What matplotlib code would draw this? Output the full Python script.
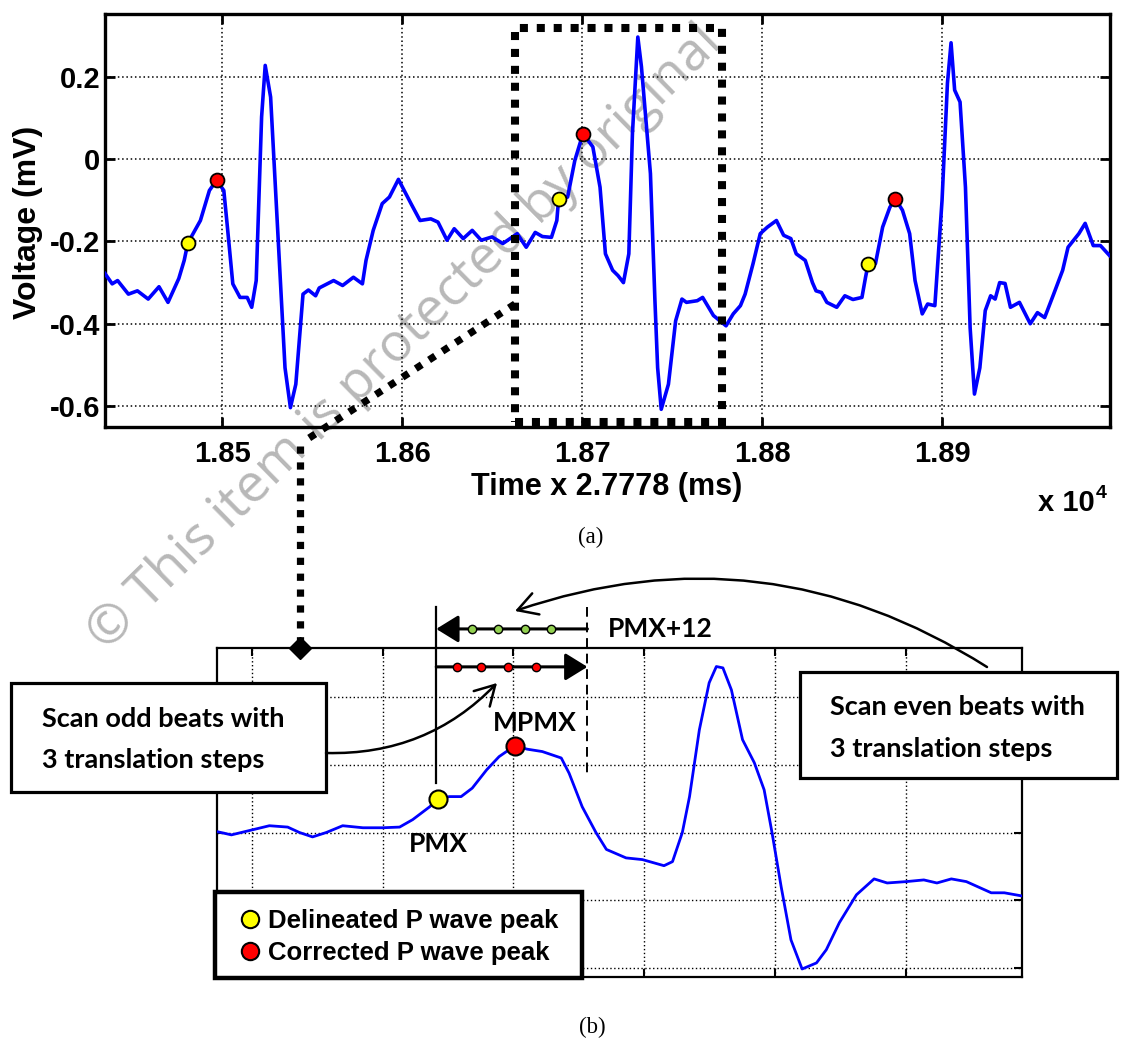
import matplotlib
matplotlib.use('Agg')
import matplotlib.pyplot as plt
from matplotlib.lines import Line2D
from matplotlib.patches import Rectangle, FancyArrowPatch
from matplotlib.ticker import FuncFormatter, FixedLocator

# ---- data ----
# (a) ECG trace, samples and mV
ecg_t = [18435, 18439, 18442, 18448, 18453, 18459, 18465, 18470, 18476, 18479,
         18481, 18488, 18493, 18497, 18501, 18503, 18506, 18510, 18514, 18516.5,
         18519, 18522, 18524, 18527, 18531, 18535, 18538, 18541, 18545, 18548,
         18552, 18554, 18562, 18567, 18573, 18578, 18580, 18584, 18589, 18593,
         18598, 18605, 18610, 18616, 18620, 18625, 18629, 18634, 18639, 18644,
         18650, 18656, 18664, 18669, 18674, 18678, 18683, 18686, 18687, 18692,
         18696, 18700.5, 18706, 18710, 18713, 18717, 18720, 18723, 18726, 18728,
         18731, 18733, 18738, 18740.5, 18742, 18744, 18748, 18752, 18755.5, 18758,
         18764, 18767, 18773, 18780, 18784, 18788, 18790.6, 18795, 18799, 18803,
         18808, 18812, 18816, 18819, 18824, 18828, 18830, 18833, 18836, 18841.5,
         18846, 18850.5, 18855.5, 18857.5, 18859, 18863, 18867, 18871, 18874, 18878,
         18882, 18885, 18889, 18892, 18896, 18900, 18903, 18905, 18907, 18910,
         18913, 18915.6, 18918, 18921, 18924, 18927, 18929.5, 18932, 18935, 18938,
         18943, 18949, 18953, 18957, 18962, 18967, 18970, 18976, 18979.5, 18984,
         18988, 18993]
ecg_v = [-0.278, -0.303, -0.295, -0.328, -0.320, -0.340, -0.310, -0.348, -0.290, -0.246,
         -0.204, -0.149, -0.076, -0.051, -0.076, -0.165, -0.303, -0.336, -0.336, -0.360,
         -0.295, 0.103, 0.228, 0.151, -0.180, -0.507, -0.604, -0.547, -0.328, -0.318,
         -0.332, -0.313, -0.295, -0.307, -0.287, -0.303, -0.246, -0.173, -0.108, -0.092,
         -0.049, -0.108, -0.149, -0.145, -0.153, -0.197, -0.169, -0.193, -0.173, -0.197,
         -0.189, -0.205, -0.181, -0.214, -0.178, -0.188, -0.190, -0.149, -0.096, -0.092,
         -0.003, 0.062, 0.030, -0.068, -0.230, -0.270, -0.283, -0.300, -0.230, 0.062,
         0.297, 0.225, -0.035, -0.344, -0.507, -0.608, -0.547, -0.393, -0.340, -0.348,
         -0.344, -0.336, -0.380, -0.405, -0.376, -0.356, -0.328, -0.254, -0.181, -0.165,
         -0.149, -0.185, -0.193, -0.230, -0.246, -0.300, -0.320, -0.324, -0.348, -0.360,
         -0.332, -0.341, -0.336, -0.287, -0.254, -0.254, -0.165, -0.117, -0.096, -0.124,
         -0.181, -0.295, -0.376, -0.352, -0.356, -0.100, 0.185, 0.283, 0.168, 0.139,
         -0.068, -0.410, -0.571, -0.507, -0.368, -0.332, -0.340, -0.300, -0.302, -0.360,
         -0.348, -0.400, -0.373, -0.385, -0.328, -0.270, -0.214, -0.181, -0.156, -0.210,
         -0.210, -0.234]

delin_t = [18481, 18687, 18859]
delin_v = [-0.204, -0.096, -0.254]
corr_t = [18497, 18700.5, 18874]
corr_v = [-0.051, 0.062, -0.096]

# zoom window drawn on (a)
win_t = [18663, 18778]
win_v = [-0.64, 0.32]

# (b) zoomed beat
zoom_t = [18654.6, 18656.9, 18659.7, 18662.7, 18665.5, 18667.3, 18669.3, 18671.4, 18673.9, 18677.0,
          18680.0, 18682.6, 18684.6, 18687.2, 18688.5, 18690.2, 18692.0, 18693.7, 18695.9, 18697.8,
          18700.2, 18702.1, 18704.4, 18707.3, 18708.5, 18710.5, 18712.6, 18714.2, 18717.2, 18719.7,
          18723.0, 18724.3, 18725.8, 18726.9, 18728.4, 18729.9, 18731.0, 18732.0, 18733.3, 18735.0,
          18736.8, 18738.3, 18739.5, 18740.9, 18742.4, 18744.1, 18746.3, 18747.8, 18749.8, 18752.4,
          18755.1, 18757.1, 18760.0, 18762.7, 18764.7, 18766.9, 18769.2, 18773.0, 18775.0, 18777.6]
zoom_v = [-0.197, -0.207, -0.194, -0.180, -0.184, -0.200, -0.213, -0.200, -0.180, -0.186,
          -0.186, -0.184, -0.162, -0.124, -0.100, -0.094, -0.094, -0.069, -0.015, 0.024,
          0.056, 0.046, 0.039, 0.020, -0.025, -0.124, -0.200, -0.250, -0.275, -0.280,
          -0.298, -0.286, -0.200, -0.094, 0.103, 0.242, 0.290, 0.286, 0.221, 0.074,
          0.006, -0.074, -0.200, -0.360, -0.517, -0.603, -0.585, -0.546, -0.466, -0.384,
          -0.337, -0.349, -0.345, -0.340, -0.349, -0.337, -0.345, -0.378, -0.378, -0.387]

pmx = (18688.5, -0.100)
mpmx = (18700.2, 0.056)
pmx_line_x = 18688.2
pmx12_line_x = 18711.3
even_steps = [18693.7, 18697.7, 18701.7, 18705.8]
odd_steps = [18691.3, 18695.1, 18699.1, 18703.5]

W, H = 1132, 1041
fig = plt.figure(figsize=(W / 100, H / 100), dpi=100)


def fx(px):
    return px / W


def fy(py):
    return 1 - py / H


ARIAL = 'Liberation Sans'
CAL = 'Lato'

# watermark behind everything
fig.text(fx(106), fy(652), '\u00a9 This item is protected by original',
         rotation=44.5, rotation_mode='anchor', ha='left', va='baseline',
         fontsize=38.3, family='Open Sans', color='#b8b8b8', zorder=-5)

# ---------------- (a) ----------------
ax1 = fig.add_axes([fx(105), fy(427), fx(1110) - fx(105), fy(14) - fy(427)])
ax1.set_facecolor('none')
ax1.plot(ecg_t, ecg_v, color='#0000ff', lw=2.6, zorder=3)
ax1.plot(delin_t, delin_v, 'o', ms=10, mfc='yellow', mec='k', mew=1.3, zorder=4)
ax1.plot(corr_t, corr_v, 'o', ms=10, mfc='red', mec='k', mew=1.3, zorder=4)
ax1.add_patch(Rectangle((win_t[0], win_v[0]), win_t[1] - win_t[0], win_v[1] - win_v[0],
                        fill=False, ec='k', lw=5.8, ls=(0, (1, 1.1)), zorder=5))
ax1.set_xlim(18435, 18993.3)
ax1.set_ylim(-0.651, 0.353)
ax1.xaxis.set_major_locator(FixedLocator([18500, 18600, 18700, 18800, 18900]))
ax1.xaxis.set_major_formatter(FuncFormatter(lambda v, p: '%.2f' % (v / 1e4)))
ax1.yaxis.set_major_locator(FixedLocator([-0.6, -0.4, -0.2, 0, 0.2]))
ax1.yaxis.set_major_formatter(FuncFormatter(lambda v, p: '0' if abs(v) < 1e-9 else '%.1f' % v))
ax1.grid(True, color='k', lw=1.1, ls=(0, (1, 1.8)))
ax1.tick_params(direction='in', length=7, width=2, top=True, right=True,
                labelsize=21)
ax1.tick_params(axis='x', pad=9)
ax1.tick_params(axis='y', pad=3.5)
for lab in ax1.get_xticklabels() + ax1.get_yticklabels():
    lab.set_fontweight('bold')
    lab.set_family(ARIAL)
for s in ax1.spines.values():
    s.set_linewidth(2.4)
ax1.set_xlabel('Time x 2.7778 (ms)', fontsize=22, fontweight='bold', family=ARIAL)
ax1.xaxis.set_label_coords(0.4995, -0.109)
ax1.set_ylabel('Voltage (mV)', fontsize=23, fontweight='bold', family=ARIAL)
ax1.yaxis.set_label_coords(-0.0617, 0.496)
fig.text(fx(1038), fy(511), 'x 10', fontsize=21, fontweight='bold', family=ARIAL,
         ha='left', va='baseline')
fig.text(fx(1096), fy(498), '4', fontsize=14, fontweight='bold', family=ARIAL,
         ha='left', va='baseline')
fig.text(fx(591), fy(537), '(a)', fontsize=16.5, family='Liberation Serif',
         ha='center', va='center')

# ---------------- (b) ----------------
ax2 = fig.add_axes([fx(217), fy(977), fx(1022) - fx(217), fy(648) - fy(977)])
ax2.set_facecolor('none')
ax2.plot(zoom_t, zoom_v, color='#0000ff', lw=2.0, zorder=3)
ax2.plot(*pmx, 'o', ms=13, mfc='yellow', mec='k', mew=1.5, zorder=6, clip_on=False)
ax2.plot(*mpmx, 'o', ms=13, mfc='red', mec='k', mew=1.5, zorder=6, clip_on=False)
ax2.set_xlim(18654.7, 18777.7)
ax2.set_ylim(-0.6266, 0.3447)
ax2.xaxis.set_major_locator(FixedLocator([18660, 18680, 18700, 18720, 18740, 18760]))
ax2.yaxis.set_major_locator(FixedLocator([-0.6, -0.4, -0.2, 0, 0.2]))
ax2.grid(True, color='k', lw=1.0, ls=(0, (1, 1.8)))
ax2.tick_params(direction='in', length=6, width=1.5, top=True, right=True,
                labelbottom=False, labelleft=False)
for s in ax2.spines.values():
    s.set_linewidth(1.6)

# scan markers
ax2.plot([pmx_line_x, pmx_line_x], [0.466, -0.053], color='k', lw=1.6,
         clip_on=False, zorder=5)
ax2.plot([pmx12_line_x, pmx12_line_x], [0.466, -0.035], color='k', lw=1.4,
         ls=(0, (5, 3)), clip_on=False, zorder=5)
arr_even = FancyArrowPatch((pmx12_line_x, 0.401), (pmx_line_x, 0.401),
                           arrowstyle='-|>,head_length=0.68,head_width=0.42',
                           mutation_scale=20, lw=2.2, color='k', shrinkA=0, shrinkB=0,
                           clip_on=False, zorder=5)
arr_odd = FancyArrowPatch((pmx_line_x, 0.289), (pmx12_line_x, 0.289),
                          arrowstyle='-|>,head_length=0.68,head_width=0.42',
                          mutation_scale=20, lw=2.2, color='k', shrinkA=0, shrinkB=0,
                          clip_on=False, zorder=5)
ax2.add_patch(arr_even)
ax2.add_patch(arr_odd)
ax2.plot(even_steps, [0.401] * len(even_steps), 'o', ms=6, mfc='#92d050', mec='k',
         mew=1, clip_on=False, zorder=6)
ax2.plot(odd_steps, [0.289] * len(odd_steps), 'o', ms=6, mfc='red', mec='k',
         mew=1, clip_on=False, zorder=6)

fig.text(fx(608), fy(637), 'PMX+12', fontsize=19, fontweight='bold', family=CAL,
         ha='left', va='baseline')
fig.text(fx(493), fy(731), 'MPMX', fontsize=19, fontweight='bold', family=CAL,
         ha='left', va='baseline', zorder=7)
fig.text(fx(409), fy(852), 'PMX', fontsize=19, fontweight='bold', family=CAL,
         ha='left', va='baseline', zorder=7)

# note boxes
fig.patches.append(Rectangle((fx(11), fy(792)), fx(326) - fx(11), fy(683) - fy(792),
                             transform=fig.transFigure, fc='white', ec='k', lw=2.3,
                             zorder=4))
fig.text(fx(42), fy(727), 'Scan odd beats with', fontsize=19.5, fontweight='bold',
         family=CAL, ha='left', va='baseline', zorder=5)
fig.text(fx(42), fy(768), '3 translation steps', fontsize=19.5, fontweight='bold',
         family=CAL, ha='left', va='baseline', zorder=5)
fig.patches.append(Rectangle((fx(800), fy(778)), fx(1117) - fx(800), fy(672) - fy(778),
                             transform=fig.transFigure, fc='white', ec='k', lw=2.3,
                             zorder=4))
fig.text(fx(830), fy(715), 'Scan even beats with', fontsize=19.5, fontweight='bold',
         family=CAL, ha='left', va='baseline', zorder=5)
fig.text(fx(830), fy(757), '3 translation steps', fontsize=19.5, fontweight='bold',
         family=CAL, ha='left', va='baseline', zorder=5)

# curved pointers
fig.patches.append(FancyArrowPatch((fx(326), fy(753)), (fx(497), fy(683)),
                                   transform=fig.transFigure,
                                   connectionstyle='arc3,rad=0.22',
                                   arrowstyle='->,head_length=0.7,head_width=0.4',
                                   mutation_scale=20, lw=1.8, color='k',
                                   shrinkA=0, shrinkB=0, zorder=5))
fig.patches.append(FancyArrowPatch((fx(987), fy(667)), (fx(515), fy(611)),
                                   transform=fig.transFigure,
                                   connectionstyle='arc3,rad=0.24',
                                   arrowstyle='->,head_length=0.7,head_width=0.4',
                                   mutation_scale=20, lw=1.8, color='k',
                                   shrinkA=0, shrinkB=0, zorder=5))

# legend box
fig.patches.append(Rectangle((fx(215), fy(978)), fx(582) - fx(215), fy(892) - fy(978),
                             transform=fig.transFigure, fc='white', ec='k', lw=3.2,
                             zorder=4))
fig.lines.append(Line2D([fx(250)], [fy(919)], transform=fig.transFigure, marker='o',
                        ms=12.5, mfc='yellow', mec='k', mew=1.5, zorder=5))
fig.lines.append(Line2D([fx(250)], [fy(951)], transform=fig.transFigure, marker='o',
                        ms=12.5, mfc='red', mec='k', mew=1.5, zorder=5))
fig.text(fx(268), fy(928), 'Delineated P wave peak', fontsize=18.5, fontweight='bold',
         family=ARIAL, ha='left', va='baseline', zorder=5)
fig.text(fx(268), fy(960), 'Corrected P wave peak', fontsize=18.5, fontweight='bold',
         family=ARIAL, ha='left', va='baseline', zorder=5)

# connector from (a) window down to (b)
fig.lines.append(Line2D([fx(515), fx(303)], [fy(304), fy(442)], transform=fig.transFigure,
                        color='k', lw=5.2, ls=(0, (1, 1.2)), zorder=6))
fig.lines.append(Line2D([fx(300), fx(300)], [fy(446), fy(640)], transform=fig.transFigure,
                        color='k', lw=5.2, ls=(0, (1, 1.2)), zorder=6))
fig.lines.append(Line2D([fx(300)], [fy(648)], transform=fig.transFigure, marker='D',
                        ms=11, color='k', zorder=6))

fig.text(fx(592), fy(1027), '(b)', fontsize=16.5, family='Liberation Serif',
         ha='center', va='center')

fig.savefig('out.png', dpi=100)
